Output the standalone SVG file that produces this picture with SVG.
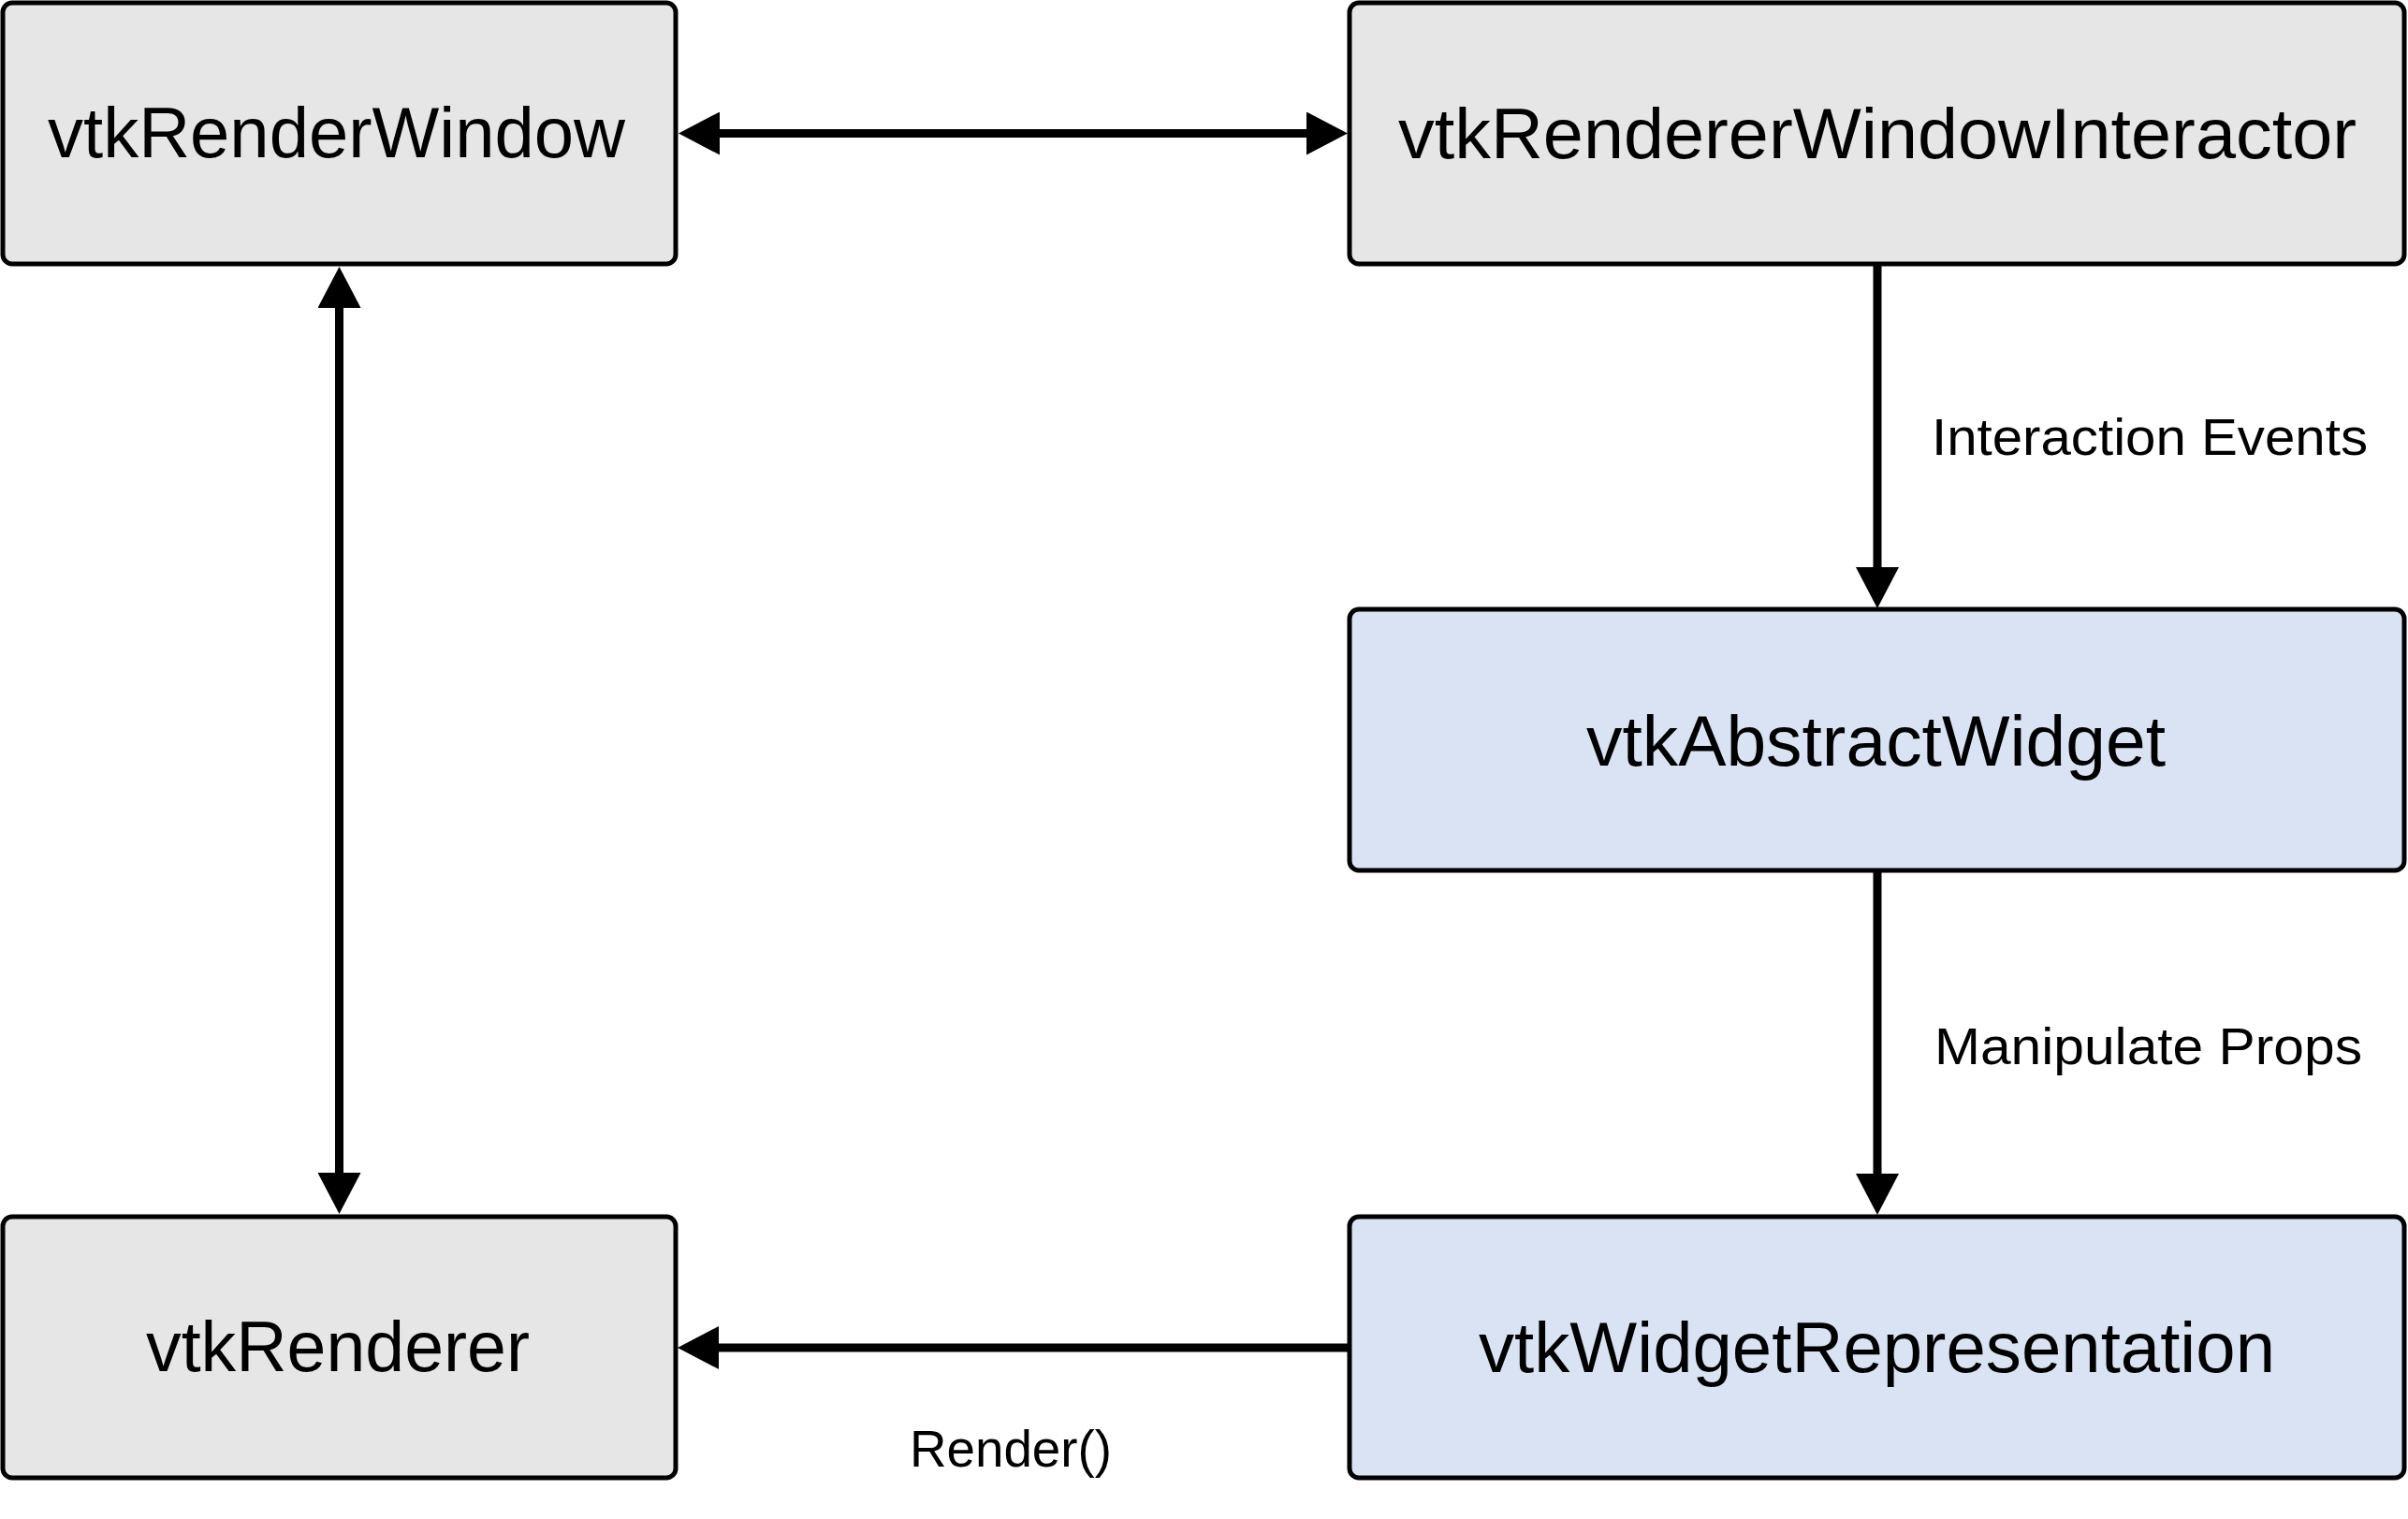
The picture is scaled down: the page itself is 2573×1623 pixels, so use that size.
<svg xmlns="http://www.w3.org/2000/svg" width="2573" height="1623" viewBox="0 0 2573 1623">
  <style>
    .box { stroke: #000; stroke-width: 5; }
    .gray { fill: #e6e6e6; }
    .blue { fill: #dae3f3; }
    .node { font-family: "Liberation Sans", Arial, sans-serif; font-size: 76px; fill: #000; }
    .lbl { font-family: "Liberation Sans", Arial, sans-serif; font-size: 56px; fill: #000; }
    .conn { stroke: #000; stroke-width: 9; fill: none; }
  </style>
  <defs>
    <marker id="arrow" markerUnits="userSpaceOnUse" markerWidth="44" markerHeight="46" viewBox="0 0 44 46" refX="0" refY="23" orient="auto-start-reverse">
      <path d="M0,0 L44,23 L0,46 Z" fill="#000"/>
    </marker>
  </defs>
  <rect width="2573" height="1623" fill="#fff"/>

  <g id="vtkRenderWindow">
    <rect class="box gray" x="3" y="3" width="719" height="279" rx="10" ry="10"/>
    <text class="node" x="51" y="168" textLength="617" lengthAdjust="spacingAndGlyphs">vtkRenderWindow</text>
  </g>
  <g id="vtkRendererWindowInteractor">
    <rect class="box gray" x="1442" y="3" width="1127" height="279" rx="10" ry="10"/>
    <text class="node" x="1494" y="169" textLength="1024" lengthAdjust="spacingAndGlyphs">vtkRendererWindowInteractor</text>
  </g>
  <g id="vtkAbstractWidget">
    <rect class="box blue" x="1442" y="651" width="1127" height="279" rx="10" ry="10"/>
    <text class="node" x="1695" y="818" textLength="619" lengthAdjust="spacingAndGlyphs">vtkAbstractWidget</text>
  </g>
  <g id="vtkRenderer">
    <rect class="box gray" x="3" y="1300" width="719" height="279" rx="10" ry="10"/>
    <text class="node" x="156" y="1465" textLength="410" lengthAdjust="spacingAndGlyphs">vtkRenderer</text>
  </g>
  <g id="vtkWidgetRepresentation">
    <rect class="box blue" x="1442" y="1300" width="1127" height="279" rx="10" ry="10"/>
    <text class="node" x="1580" y="1466" textLength="851" lengthAdjust="spacingAndGlyphs">vtkWidgetRepresentation</text>
  </g>

  <g id="connectors">
    <line class="conn" x1="769" y1="142.5" x2="1396" y2="142.5" marker-start="url(#arrow)" marker-end="url(#arrow)"/>
    <line class="conn" x1="362.5" y1="329" x2="362.5" y2="1253" marker-start="url(#arrow)" marker-end="url(#arrow)"/>
    <line class="conn" x1="2006" y1="282" x2="2006" y2="606" marker-end="url(#arrow)"/>
    <line class="conn" x1="2006" y1="930" x2="2006" y2="1254" marker-end="url(#arrow)"/>
    <line class="conn" x1="1442" y1="1440" x2="768" y2="1440" marker-end="url(#arrow)"/>
    <text class="lbl" x="2064" y="486" textLength="466" lengthAdjust="spacingAndGlyphs">Interaction Events</text>
    <text class="lbl" x="2067" y="1137" textLength="457" lengthAdjust="spacingAndGlyphs">Manipulate Props</text>
    <text class="lbl" x="972" y="1567" textLength="216" lengthAdjust="spacingAndGlyphs">Render()</text>
  </g>
</svg>
